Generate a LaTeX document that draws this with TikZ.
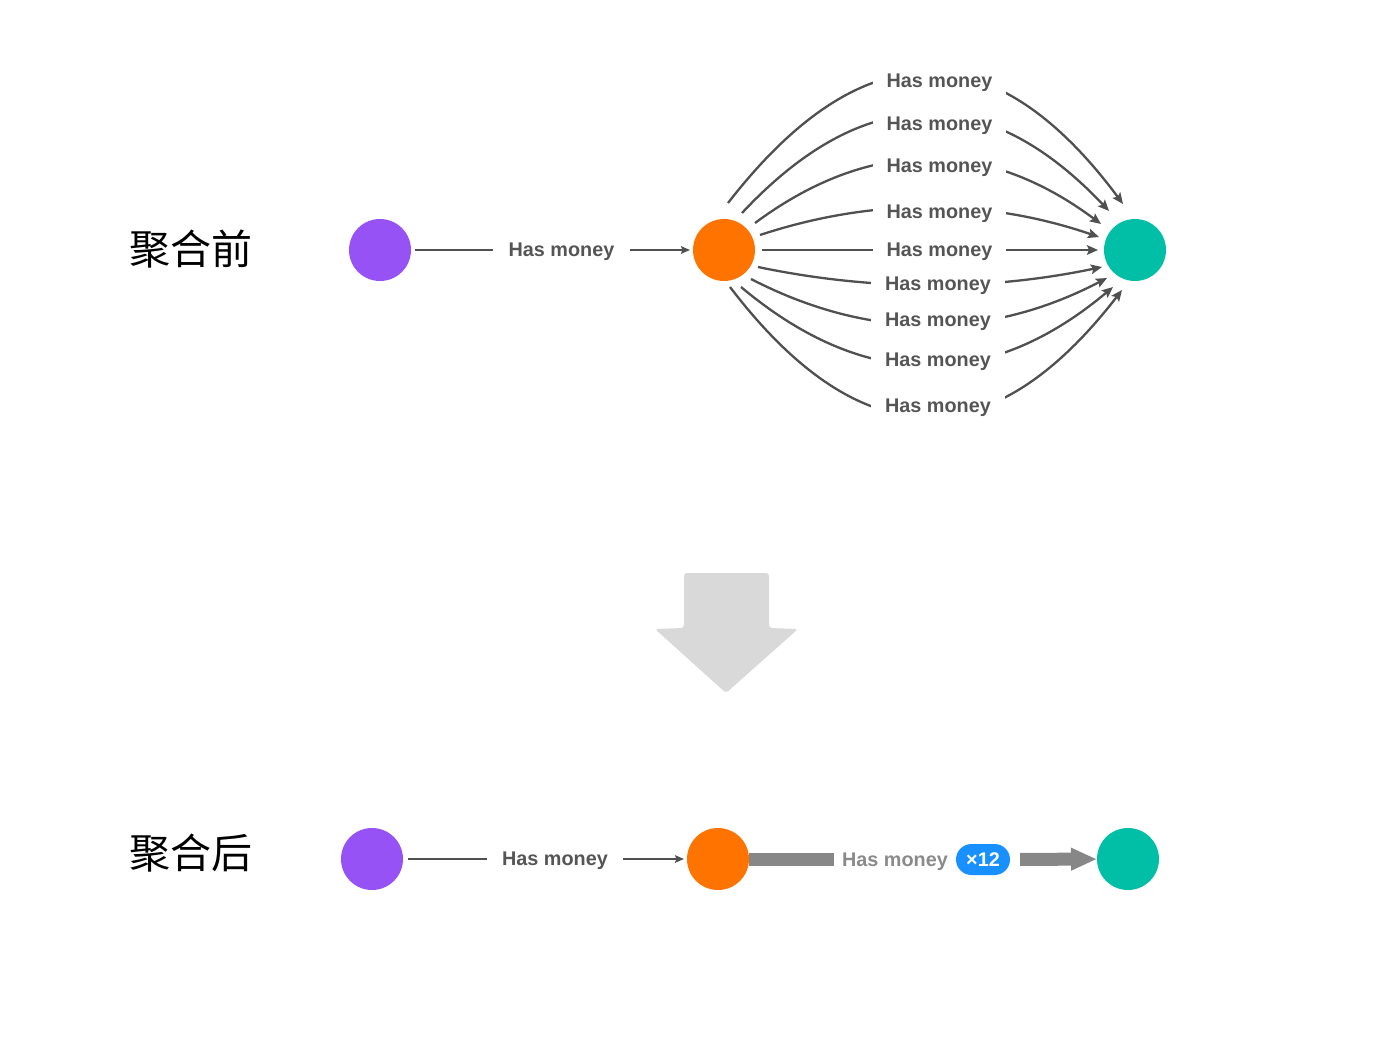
\documentclass[tikz,border=0pt]{standalone}
\usepackage{fontspec}
\setmainfont{Liberation Sans}
\newfontfamily\cjkfont{Noto Sans CJK SC}
\usetikzlibrary{arrows.meta,calc}

\definecolor{nodepurple}{HTML}{9652F4}
\definecolor{nodeorange}{HTML}{FF7300}
\definecolor{nodeteal}{HTML}{00BFA6}
\definecolor{edgegray}{HTML}{505050}
\definecolor{labelgray}{HTML}{555555}
\definecolor{softgray}{HTML}{8A8A8A}
\definecolor{bargray}{HTML}{878787}
\definecolor{badgeblue}{HTML}{1890FF}
\definecolor{bigarrow}{HTML}{D9D9D9}

\begin{document}
\begin{tikzpicture}[x=1pt,y=-1pt,
  vertex/.style={circle, minimum size=62pt, inner sep=0pt, outer sep=0pt, fill=#1},
  rel/.style={font=\fontsize{19.8}{24}\selectfont\bfseries, text=labelgray,
              fill=white, inner xsep=14pt, inner ysep=6pt},
  title/.style={font=\cjkfont\fontsize{41}{48}\selectfont, text=black},
  link/.style={draw=edgegray, line width=2.3pt},
  smalltip/.style={-{Stealth[length=9pt,width=7.5pt,inset=1.5pt]}},
  fanarrow/.style={link, -{Stealth[length=11pt,width=9.5pt,inset=2pt]}},
  bar/.style={draw=bargray, line width=13pt},
  badge/.style={fill=badgeblue, text=white, rounded corners=15.5pt,
                minimum width=54pt, minimum height=31pt, inner sep=0pt,
                font=\fontsize{19.8}{24}\selectfont\bfseries}
]
\useasboundingbox (0,0) rectangle (1382,1044);
\fill[white] (0,0) rectangle (1382,1044);

% ---------- before aggregation ----------
\node[title] (c1) at (191,249) {聚合前};

\node[vertex=nodepurple] (p1) at (380,250) {};
\node[vertex=nodeorange] (o1) at (724,250) {};
\node[vertex=nodeteal]   (t1) at (1135,250) {};

\node[rel, inner xsep=15.2pt] (h0) at (561.5,252) {Has money};
\draw[link, shorten <=4pt] (p1) -- (p1 -| h0.west);
\draw[link, smalltip, shorten >=3pt] (o1 -| h0.east) -- (o1);

% fan of parallel relations
\draw[fanarrow] ($(o1)+(4,-47)$)  .. controls +(134,-172.7)  and +(-129.3,-174) .. ($(t1)+(-12,-46)$);
\draw[fanarrow] ($(o1)+(18,-37)$) .. controls +(122.3,-130.7) and +(-122.3,-129.3) .. ($(t1)+(-26,-39)$);
\draw[fanarrow] ($(o1)+(31,-27)$) .. controls +(115.3,-85.3)  and +(-115.3,-86) .. ($(t1)+(-34,-26)$);
\draw[fanarrow] ($(o1)+(36,-15)$) .. controls +(113,-37.3)    and +(-113,-38.7) .. ($(t1)+(-36,-13)$);
\draw[fanarrow] ($(o1)+(38,0)$) -- ($(t1)+(-37,0)$);
\draw[fanarrow] ($(o1)+(34,17)$)  .. controls +(114.7,24)     and +(-114.7,24) .. ($(t1)+(-33,17)$);
\draw[fanarrow] ($(o1)+(27,29)$)  .. controls +(118.7,61.3)   and +(-118.7,62) .. ($(t1)+(-28,28)$);
\draw[fanarrow] ($(o1)+(17,37)$)  .. controls +(124,104)      and +(-124,104) .. ($(t1)+(-22,37)$);
\draw[fanarrow] ($(o1)+(6,37)$)   .. controls +(130.7,171.3)  and +(-130.7,169.3) .. ($(t1)+(-13,40)$);

\node[rel] (f1) at (939.5,83)  {Has money};
\node[rel] (f2) at (939.5,126) {Has money};
\node[rel] (f3) at (939.5,168) {Has money};
\node[rel] (f4) at (939.5,214) {Has money};
\node[rel] (f5) at (939.5,252) {Has money};
\node[rel] (f6) at (938,285.5) {Has money};
\node[rel] (f7) at (938,322)   {Has money};
\node[rel] (f8) at (938,362)   {Has money};
\node[rel] (f9) at (938,408)   {Has money};

% ---------- transition arrow ----------
\fill[bigarrow, rounded corners=3pt]
  (684,573) -- (769,573) -- (769,628) -- (798,629) -- (726,693)
  -- (655,629) -- (684,628) -- cycle;

% ---------- after aggregation ----------
\node[title] (c2) at (191,853) {聚合后};

\node[vertex=nodepurple] (p2) at (372,859) {};
\node[vertex=nodeorange] (o2) at (718,859) {};
\node[vertex=nodeteal]   (t2) at (1128,859) {};

\node[rel, inner xsep=15.2pt] (h2) at (555,861) {Has money};
\draw[link, shorten <=5pt] (p2) -- (p2 -| h2.west);
\draw[link, smalltip, shorten >=3pt] (o2 -| h2.east) -- (o2);

\node[rel, text=softgray, inner xsep=8pt] (h3) at (895,861.5) {Has money};
\node[badge] (b) at (983,859.5) {×12};
\draw[bar] (o2) -- (o2 -| h3.west);
\draw[bar, shorten <=10pt, -{Triangle[length=26pt,width=21pt]}] (b) -- (t2);

\end{tikzpicture}
\end{document}
